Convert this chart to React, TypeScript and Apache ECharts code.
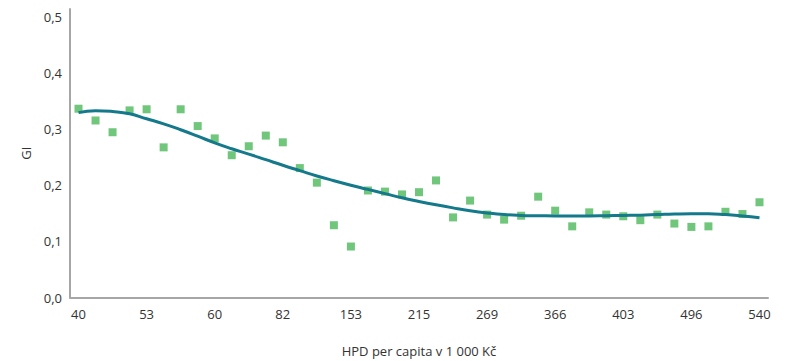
import React, { useEffect, useRef } from "react";
import * as echarts from "echarts";

// Income categories (HPD per capita, thousand CZK); only every 4th label is shown
const categories = [
  "40", "44", "47", "50", "53", "55", "57", "58", "60", "65", "70", "76",
  "82", "95", "110", "130", "153", "168", "182", "199", "215", "228", "242", "255",
  "269", "290", "315", "340", "366", "375", "385", "394", "403", "425", "450", "473",
  "496", "507", "518", "529", "540",
];

// Gini index values (points)
const giValues = [
  0.337, 0.316, 0.295, 0.334, 0.336, 0.268, 0.336, 0.306, 0.284, 0.254, 0.27,
  0.289, 0.277, 0.231, 0.205, 0.129, 0.091, 0.191, 0.189, 0.184, 0.188,
  0.209, 0.143, 0.173, 0.148, 0.139, 0.146, 0.18, 0.155, 0.127, 0.152,
  0.148, 0.145, 0.138, 0.148, 0.132, 0.126, 0.127, 0.153, 0.149, 0.17,
];

// Trend curve
const trendValues = [
  0.33, 0.3335, 0.332, 0.328, 0.319, 0.31, 0.2995, 0.288, 0.276, 0.2655, 0.256,
  0.246, 0.236, 0.2265, 0.217, 0.2085, 0.2005, 0.193, 0.1855, 0.178, 0.1715,
  0.1655, 0.16, 0.155, 0.151, 0.148, 0.1465, 0.146, 0.1455, 0.1455, 0.1455,
  0.146, 0.1465, 0.147, 0.148, 0.149, 0.1495, 0.1495, 0.148, 0.1455, 0.1425,
];

const FONT = "Open Sans";

export default function App() {
  const ref = useRef<HTMLDivElement>(null);
  useEffect(() => {
    if (!ref.current) return;
    const chart = echarts.init(ref.current, null, { renderer: "svg" });
    chart.setOption({
      animation: false,
      backgroundColor: "#ffffff",
      grid: {
        left: 70,
        right: 19,
        top: 9,
        bottom: 63.5,
        containLabel: false,
        outerBoundsMode: "none",
      },
      xAxis: {
        type: "category",
        data: categories,
        boundaryGap: true,
        name: "HPD per capita v 1 000 Kč",
        nameLocation: "middle",
        nameGap: 47,
        nameTextStyle: { color: "#333333", fontSize: 13, fontFamily: FONT },
        axisLine: { show: true, lineStyle: { color: "#a6a6a6", width: 2 } },
        axisTick: { show: false },
        axisLabel: {
          interval: 3,
          color: "#333333",
          fontSize: 13,
          fontFamily: FONT,
          margin: 10,
        },
        splitLine: { show: false },
      },
      yAxis: {
        type: "value",
        min: 0,
        max: 0.515,
        interval: 0.1,
        name: "GI",
        nameLocation: "middle",
        nameGap: 38,
        nameTextStyle: { color: "#333333", fontSize: 13, fontFamily: FONT },
        axisLine: { show: true, lineStyle: { color: "#a6a6a6", width: 2 } },
        axisTick: { show: false },
        axisLabel: {
          color: "#333333",
          fontSize: 13,
          fontFamily: FONT,
          margin: 8,
          showMaxLabel: false,
          formatter: (v: number) => {
            const r = Math.round(v * 10) / 10;
            if (Math.abs(r - v) > 1e-6) return "";
            return r.toFixed(1).replace(".", ",");
          },
        },
        splitLine: { show: false },
      },
      series: [
        {
          name: "GI",
          type: "scatter",
          data: giValues,
          symbol: "rect",
          symbolSize: 8,
          itemStyle: { color: "#4cb85a" },
          z: 2,
        },
        {
          name: "Trend",
          type: "line",
          data: trendValues,
          smooth: true,
          showSymbol: false,
          symbol: "none",
          lineStyle: { color: "#13798b", width: 3 },
          z: 3,
        },
      ],
    });
    return () => chart.dispose();
  }, []);
  return <div ref={ref} style={{ width: 787, height: 361, position: "absolute", left: 0, top: 0 }} />;
}
